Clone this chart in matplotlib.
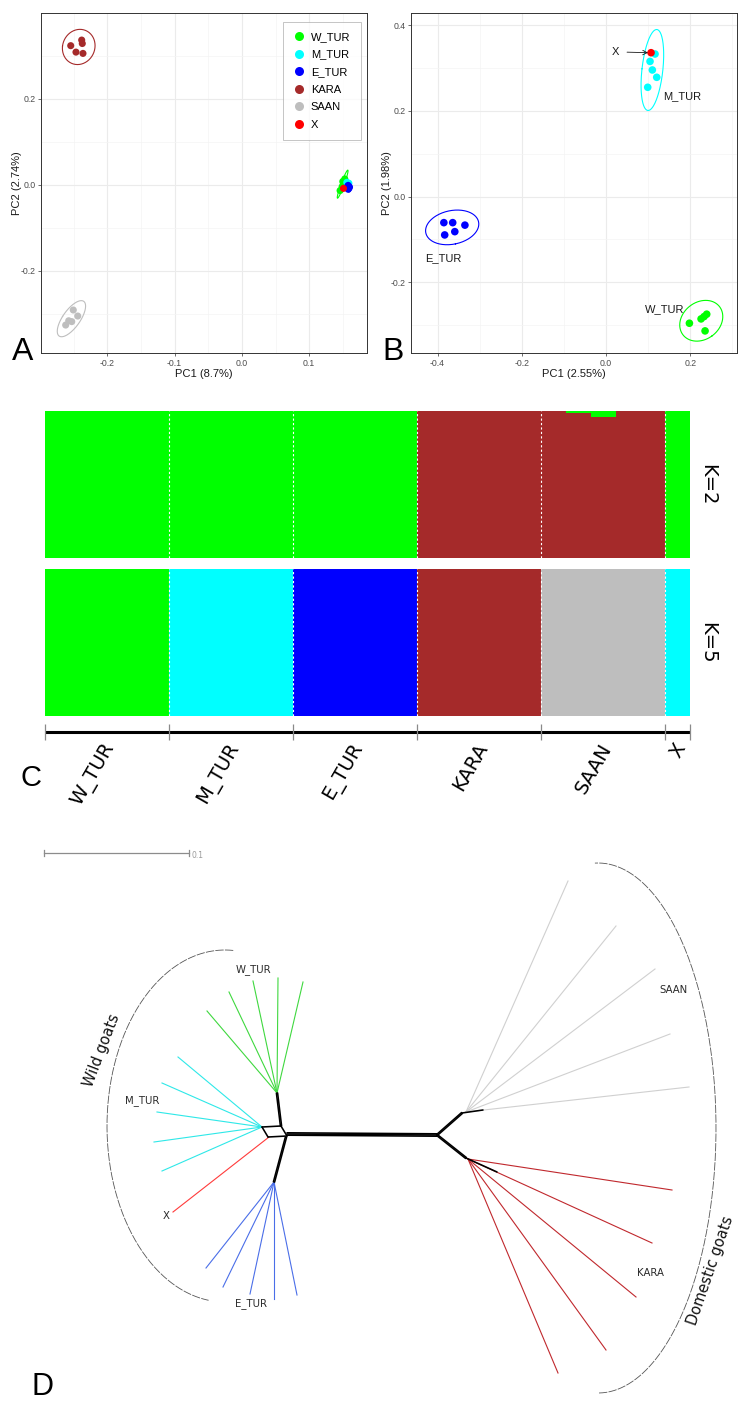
import numpy as np
import matplotlib
matplotlib.use("Agg")
import matplotlib.pyplot as plt
from matplotlib.lines import Line2D

plt.rcParams["axes.unicode_minus"] = False

# ------------------------------------------------------------------ data
pops = ["W_TUR", "M_TUR", "E_TUR", "KARA", "SAAN", "X"]
pop_colors = ["#00ff00", "#00ffff", "#0000ff", "#a52a2a", "#bebebe", "#ff0000"]

# Panel A : PCA of all samples
A_pc1 = {
    "W_TUR": [0.146, 0.149, 0.151, 0.153, 0.150],
    "M_TUR": [0.156, 0.158, 0.157, 0.159, 0.157],
    "E_TUR": [0.157, 0.159, 0.158, 0.160, 0.158],
    "KARA": [-0.2545, -0.2467, -0.2382, -0.2373, -0.2363],
    "SAAN": [-0.262, -0.2575, -0.253, -0.2507, -0.2441],
    "X": [0.151],
}
A_pc2 = {
    "W_TUR": [-0.013, -0.004, 0.004, 0.014, 0.008],
    "M_TUR": [0.006, 0.002, -0.002, 0.004, 0.000],
    "E_TUR": [-0.004, -0.008, -0.001, -0.005, -0.010],
    "KARA": [0.324, 0.309, 0.337, 0.329, 0.306],
    "SAAN": [-0.326, -0.316, -0.318, -0.291, -0.305],
    "X": [-0.008],
}
A_xticks = [-0.2, -0.1, 0.0, 0.1]
A_yticks = [-0.2, 0.0, 0.2]

# Panel B : PCA of wild goats
B_pops = ["W_TUR", "M_TUR", "E_TUR", "X"]
B_pc1 = {
    "W_TUR": [0.198, 0.2257, 0.2328, 0.2391, 0.2352],
    "M_TUR": [0.1164, 0.1045, 0.110, 0.1204, 0.099],
    "E_TUR": [-0.385, -0.364, -0.335, -0.383, -0.359],
    "X": [0.1069],
}
B_pc2 = {
    "W_TUR": [-0.2955, -0.2854, -0.280, -0.2744, -0.3134],
    "M_TUR": [0.333, 0.3157, 0.2957, 0.2786, 0.2553],
    "E_TUR": [-0.0607, -0.0607, -0.0665, -0.0894, -0.0817],
    "X": [0.336],
}
B_xticks = [-0.4, -0.2, 0.0, 0.2]
B_yticks = [-0.2, 0.0, 0.2, 0.4]

# Panel C : admixture proportions, 26 individuals
n_ind = [5, 5, 5, 5, 5, 1]
K2_green = [1, 1, 1, 1, 1, 1, 1, 1, 1, 1, 1, 1, 1, 1, 1,
            0, 0, 0, 0, 0, 0, 0.016, 0.04, 0, 0, 1]
K2_brown = [0, 0, 0, 0, 0, 0, 0, 0, 0, 0, 0, 0, 0, 0, 0,
            1, 1, 1, 1, 1, 1, 0.984, 0.96, 1, 1, 0]
K5_q = [
    [1, 1, 1, 1, 1, 0, 0, 0, 0, 0, 0, 0, 0, 0, 0, 0, 0, 0, 0, 0, 0, 0, 0, 0, 0, 0],
    [0, 0, 0, 0, 0, 1, 1, 1, 1, 1, 0, 0, 0, 0, 0, 0, 0, 0, 0, 0, 0, 0, 0, 0, 0, 1],
    [0, 0, 0, 0, 0, 0, 0, 0, 0, 0, 1, 1, 1, 1, 1, 0, 0, 0, 0, 0, 0, 0, 0, 0, 0, 0],
    [0, 0, 0, 0, 0, 0, 0, 0, 0, 0, 0, 0, 0, 0, 0, 1, 1, 1, 1, 1, 0, 0, 0, 0, 0, 0],
    [0, 0, 0, 0, 0, 0, 0, 0, 0, 0, 0, 0, 0, 0, 0, 0, 0, 0, 0, 0, 1, 1, 1, 1, 1, 0],
]
K5_colors = ["#00ff00", "#00ffff", "#0000ff", "#a52a2a", "#bebebe"]

# Panel D : neighbour-net layout coordinates (scale bar 145 units = 0.1)
tree_colors = {"W_TUR": "#3fd83f", "M_TUR": "#2ee8e8", "X": "#ff3b3b",
               "E_TUR": "#4a6ee8", "SAAN": "#d0d0d0", "KARA": "#c0282d"}
tree_node = {"W_TUR": (277, 1093), "M_TUR": (262, 1127), "X": (269, 1137),
             "E_TUR": (274, 1182), "SAAN": (466, 1112), "KARA": (468, 1159)}
tip_x = {"W_TUR": [207, 229, 253, 278, 303],
         "M_TUR": [178, 162, 157, 154, 162],
         "X": [173],
         "E_TUR": [206, 223, 250, 274, 297],
         "SAAN": [568, 616, 655, 670, 689],
         "KARA": [672, 652, 636, 606, 558]}
tip_y = {"W_TUR": [1011, 992, 981, 978, 982],
         "M_TUR": [1057, 1083, 1112, 1142, 1171],
         "X": [1212],
         "E_TUR": [1268, 1287, 1294, 1299, 1295],
         "SAAN": [881, 926, 969, 1034, 1087],
         "KARA": [1190, 1243, 1297, 1350, 1373]}
tree_label_pos = {"W_TUR": (253, 970), "M_TUR": (142, 1101), "X": (166, 1216),
                  "E_TUR": (251, 1304), "SAAN": (674, 990), "KARA": (650, 1273)}
backbone = [
    ((287, 1134), (437, 1135), 3),
    ((281, 1126), (277, 1093), 2),
    ((286, 1137), (274, 1182), 2),
    ((262, 1127), (281, 1126), 1),
    ((268, 1137), (287, 1136), 1),
    ((262, 1127), (268, 1137), 1),
    ((281, 1126), (287, 1136), 1),
    ((437, 1135), (462, 1113), 2),
    ((462, 1113), (483, 1110), 1),
    ((437, 1135), (466, 1158), 2),
    ((466, 1158), (497, 1172), 1),
]

# ------------------------------------------------------------------ figure
W, H = 745, 1401
fig = plt.figure(figsize=(W / 100, H / 100), dpi=100)


def px_axes(x0, y0, x1, y1):
    return fig.add_axes([x0 / W, 1 - y1 / H, (x1 - x0) / W, (y1 - y0) / H])


def conf_ellipse(x, y, k=3.1, n=200):
    x = np.asarray(x, float)
    y = np.asarray(y, float)
    cov = np.cov(x, y)
    vals, vecs = np.linalg.eigh(cov)
    t = np.linspace(0, 2 * np.pi, n)
    circ = np.stack([np.cos(t), np.sin(t)])
    pts = vecs @ (np.sqrt(np.maximum(vals, 0))[:, None] * circ) * k
    return x.mean() + pts[0], y.mean() + pts[1]


def bw_style(ax, xt, yt, xlim, ylim, xlabel, ylabel):
    ax.set_xticks(xt)
    ax.set_xticklabels([f"{v:.1f}" for v in xt])
    ax.set_yticks(yt)
    ax.set_yticklabels([f"{v:.1f}" for v in yt])
    xs = np.diff(xt)[0] / 2
    ys = np.diff(yt)[0] / 2
    ax.set_xticks(np.arange(xt[0] - 3 * xs, xt[-1] + 3 * xs, 2 * xs), minor=True)
    ax.set_yticks(np.arange(yt[0] - 3 * ys, yt[-1] + 3 * ys, 2 * ys), minor=True)
    ax.set_xlim(*xlim)
    ax.set_ylim(*ylim)
    ax.grid(which="major", color="#ebebeb", lw=0.8)
    ax.grid(which="minor", color="#f4f4f4", lw=0.5)
    ax.set_axisbelow(True)
    ax.tick_params(which="minor", length=0)
    ax.tick_params(which="major", length=2.5, width=0.5, color="#333333",
                   labelcolor="#4d4d4d", labelsize=6.3, pad=1.5)
    for s in ax.spines.values():
        s.set_color("#333333")
        s.set_linewidth(0.7)
    for lab in ax.get_xticklabels() + ax.get_yticklabels():
        lab.set_family("Liberation Sans")
    ax.text(0.5, -0.062, xlabel, transform=ax.transAxes, ha="center", va="center",
            fontsize=8, family="Liberation Sans", color="#1a1a1a")
    ax.text(-0.074, 0.5, ylabel, transform=ax.transAxes, ha="center", va="center",
            rotation=90, fontsize=8, family="Liberation Sans", color="#1a1a1a")


# ---- Panel A
axA = px_axes(41, 13, 367, 353)
for p, c in zip(pops, pop_colors):
    if len(A_pc1[p]) > 2:
        ex, ey = conf_ellipse(A_pc1[p], A_pc2[p])
        axA.plot(ex, ey, color=c, lw=0.8)
for p, c in zip(pops, pop_colors):
    axA.scatter(A_pc1[p], A_pc2[p], s=26, color=c, edgecolors="none", zorder=3)
bw_style(axA, A_xticks, A_yticks, (-0.2987, 0.186), (-0.391, 0.400),
         "PC1 (8.7%)", "PC2 (2.74%)")
handles = [Line2D([], [], ls="", marker="o", markersize=6.5, color=c,
                  markeredgewidth=0) for c in pop_colors]
leg = axA.legend(handles, pops, loc="upper left", bbox_to_anchor=(0.742, 0.975),
                 frameon=True, fancybox=False, edgecolor="#aaaaaa",
                 prop={"family": "Liberation Sans", "size": 8},
                 labelspacing=0.68, handletextpad=0.55, borderpad=0.95,
                 handlelength=1.0, borderaxespad=0)
leg.get_frame().set_linewidth(0.6)

# ---- Panel B
axB = px_axes(411, 13, 737, 353)
for p in B_pops:
    c = pop_colors[pops.index(p)]
    if len(B_pc1[p]) > 2:
        ex, ey = conf_ellipse(B_pc1[p], B_pc2[p])
        axB.plot(ex, ey, color=c, lw=0.8)
for p in B_pops:
    c = pop_colors[pops.index(p)]
    axB.scatter(B_pc1[p], B_pc2[p], s=30, color=c, edgecolors="none", zorder=3)
bw_style(axB, B_xticks, B_yticks, (-0.463, 0.311), (-0.365, 0.4287),
         "PC1 (2.55%)", "PC2 (1.98%)")
lab_kw = dict(fontsize=8, family="Liberation Sans", color="#1a1a1a", va="center")
axB.text(0.0926, -0.2628, "W_TUR", ha="left", **lab_kw)
axB.text(0.1347, 0.2357, "M_TUR", ha="left", **lab_kw)
axB.text(-0.43, -0.1438, "E_TUR", ha="left", **lab_kw)
axB.annotate("X", xy=(B_pc1["X"][0] - 0.007, B_pc2["X"][0]),
             xytext=(0.0214, 0.338), ha="center", **lab_kw,
             arrowprops=dict(arrowstyle="->", color="#1a1a1a", lw=0.6,
                             shrinkA=4, shrinkB=0))

# ---- Panel C
n_tot = len(K2_green)
ind = np.arange(n_tot)
bounds = np.cumsum(n_ind)

axK2 = px_axes(45, 411, 690, 558)
axK2.bar(ind, K2_brown, width=1, align="edge", color="#a52a2a", lw=0)
axK2.bar(ind, K2_green, bottom=K2_brown, width=1, align="edge", color="#00ff00", lw=0)

axK5 = px_axes(45, 569, 690, 716)
bottom = np.zeros(n_tot)
for q, c in zip(K5_q, K5_colors):
    axK5.bar(ind, q, bottom=bottom, width=1, align="edge", color=c, lw=0)
    bottom += np.asarray(q, float)

for ax in (axK2, axK5):
    ax.set_xlim(0, n_tot)
    ax.set_ylim(0, 1)
    for b in bounds[:-1]:
        ax.axvline(b, color="white", lw=0.8, ls=(0, (2, 2)))
    ax.axis("off")

fig.text(708 / W, 1 - 484.5 / H, "K=2", rotation=270, ha="center", va="center",
         fontsize=14, family="DejaVu Sans")
fig.text(708 / W, 1 - 642.5 / H, "K=5", rotation=270, ha="center", va="center",
         fontsize=14, family="DejaVu Sans")

axC = px_axes(45, 724, 690, 740)
axC.set_xlim(0, n_tot)
axC.set_ylim(1, 0)
axC.axis("off")
axC.plot([0, n_tot], [0.5, 0.5], color="black", lw=2.2, solid_capstyle="butt", clip_on=False)
axC.vlines(np.concatenate([[0], bounds]), 0.0, 1.0, color="#8a8a8a", lw=0.9, clip_on=False)
starts = np.concatenate([[0], bounds[:-1]])
for p, s, n in zip(pops, starts, n_ind):
    axC.text(s + n / 2 + 0.15, 1.3, p, rotation=60, rotation_mode="anchor",
             ha="right", va="center", fontsize=14, family="DejaVu Sans", clip_on=False)

# ---- Panel D
axD = px_axes(0, 800, 745, 1401)
axD.set_xlim(0, 745)
axD.set_ylim(1401, 800)
axD.axis("off")


def draw_split(ax, p, q, n, spacing=1.2, lw=1.15):
    p = np.asarray(p, float)
    q = np.asarray(q, float)
    d = q - p
    nrm = np.array([-d[1], d[0]]) / np.hypot(*d)
    offs = (np.arange(n) - (n - 1) / 2) * spacing
    for o in offs:
        a = p + o * nrm
        b = q + o * nrm
        ax.plot([a[0], b[0]], [a[1], b[1]], color="black", lw=lw,
                solid_capstyle="round", zorder=3)


for clade in ["W_TUR", "M_TUR", "X", "E_TUR", "SAAN", "KARA"]:
    nx, ny = tree_node[clade]
    for tx, ty in zip(tip_x[clade], tip_y[clade]):
        axD.plot([nx, tx], [ny, ty], color=tree_colors[clade], lw=0.8)

for p, q, n in backbone:
    draw_split(axD, p, q, n)

for clade, (lx, ly) in tree_label_pos.items():
    axD.text(lx, ly, clade, ha="center", va="center", fontsize=7.3,
             family="DejaVu Sans", color="#2a2a2a")

# scale bar
scale_len = 145  # layout units corresponding to 0.1
axD.plot([44, 44 + scale_len], [853, 853], color="#8c8c8c", lw=0.9)
axD.plot([44, 44], [850, 856], color="#8c8c8c", lw=0.9)
axD.plot([44 + scale_len, 44 + scale_len], [850, 856], color="#8c8c8c", lw=0.9)
axD.text(44 + scale_len + 3, 856, "0.1", ha="left", va="center", fontsize=5.5,
         color="#9a9a9a", family="DejaVu Sans")

# group brackets
t1 = np.radians(np.linspace(86, 262, 200))
axD.plot(225 + 118 * np.cos(t1), 1126 - 176 * np.sin(t1), color="#555555",
         lw=0.6, ls=(0, (10, 1.5)))
t2 = np.radians(np.linspace(-89.5, 91.5, 200))
axD.plot(598 + 118 * np.cos(t2), 1128 - 265 * np.sin(t2), color="#555555",
         lw=0.6, ls=(0, (10, 1.5)))
axD.text(102, 1050, "Wild goats", rotation=69, ha="center", va="center",
         fontsize=10.5, family="DejaVu Sans", color="#111111")
axD.text(711, 1271, "Domestic goats", rotation=71, ha="center", va="center",
         fontsize=10.5, family="DejaVu Sans", color="#111111")

# panel letters
fig.text(12 / W, 1 - 360 / H, "A", fontsize=23, family="Liberation Sans", va="baseline")
fig.text(382 / W, 1 - 360 / H, "B", fontsize=23, family="Liberation Sans", va="baseline")
fig.text(20 / W, 1 - 786 / H, "C", fontsize=21, family="Liberation Sans", va="baseline")
fig.text(32 / W, 1 - 1395 / H, "D", fontsize=22, family="Liberation Sans", va="baseline")

fig.savefig("out.png", dpi=100, facecolor="white")
